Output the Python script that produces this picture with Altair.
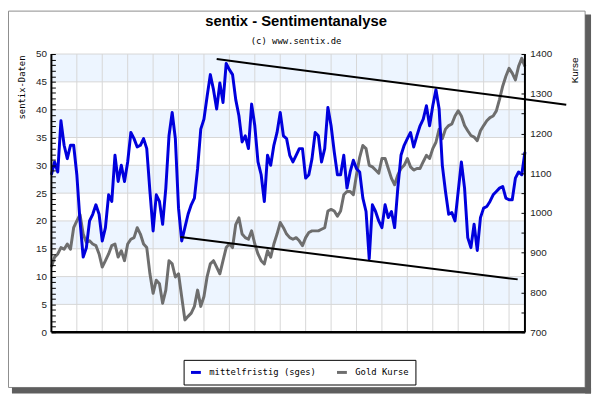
import altair as alt
import pandas as pd

# ---------------- data ----------------
week_dates = pd.date_range("2008-01-04", periods=150, freq="7D")
date_ms = [int(d.value // 10**6) for d in week_dates]

sentix_values = [
    28.3, 30.6, 28.8, 38.0, 33.6, 31.2, 33.6, 33.6, 28.3, 20.0,
    13.5, 15.2, 20.0, 21.2, 22.9, 21.2, 16.4, 18.8, 24.7, 23.5,
    31.8, 27.1, 30.0, 27.1, 30.6, 35.9, 34.8, 33.3, 33.6, 34.8,
    33.0, 25.3, 18.2, 24.7, 23.5, 19.4, 25.9, 35.3, 39.5, 34.8,
    22.3, 16.4, 18.8, 21.2, 22.9, 24.1, 29.4, 36.5, 38.3, 42.4,
    46.3, 43.6, 40.1, 44.8, 41.3, 48.3, 47.2, 46.3, 41.8, 38.9,
    34.2, 35.3, 33.0, 41.0, 37.1, 30.6, 28.3, 23.5, 31.8, 30.0,
    33.6, 35.9, 39.5, 35.3, 34.8, 31.8, 30.6, 31.8, 33.0, 33.0,
    27.7, 28.3, 31.2, 35.9, 35.3, 30.6, 33.0, 40.4, 37.1, 32.4,
    28.3, 28.3, 31.8, 25.9, 28.8, 30.9, 29.4, 28.8, 24.1, 21.7,
    13.2, 22.9, 21.7, 20.0, 18.8, 22.9, 20.6, 21.7, 18.8, 25.9,
    31.8, 33.6, 34.8, 35.9, 33.3, 35.3, 37.1, 38.3, 40.7, 37.1,
    40.7, 43.6, 40.1, 30.0, 25.3, 21.2, 21.5, 20.0, 25.3, 30.6,
    25.9, 17.0, 15.2, 19.4, 14.7, 20.6, 22.3, 22.6, 23.5, 24.7,
    25.3, 25.9, 26.2, 24.1, 23.8, 23.8, 27.7, 28.8, 28.3, 32.4,
]

gold_values = [
    864, 889, 897, 913, 909, 922, 909, 963, 980, 996,
    947, 926, 930, 922, 918, 897, 864, 880, 897, 918,
    922, 889, 905, 880, 922, 934, 938, 963, 947, 922,
    913, 847, 798, 831, 822, 773, 806, 880, 872, 839,
    847, 789, 731, 740, 748, 765, 806, 765, 790, 840,
    872, 880, 864, 847, 880, 913, 922, 913, 971, 988,
    947, 938, 934, 955, 922, 897, 880, 872, 905, 889,
    922, 947, 976, 963, 947, 938, 934, 938, 930, 918,
    938, 951, 955, 955, 955, 959, 963, 1005, 1009, 1005,
    992, 1005, 1046, 1054, 1054, 1046, 1096, 1140, 1170, 1162,
    1120, 1116, 1108, 1100, 1137, 1137, 1112, 1087, 1071, 1096,
    1112, 1120, 1137, 1116, 1108, 1112, 1112, 1129, 1145, 1137,
    1162, 1178, 1211, 1187, 1211, 1220, 1224, 1244, 1257, 1244,
    1220, 1207, 1195, 1191, 1182, 1207, 1220, 1232, 1240, 1244,
    1257, 1286, 1319, 1344, 1364, 1352, 1335, 1369, 1389, 1369,
]

series_names = ["mittelfristig (sges)", "Gold Kurse"]
series_colors = ["#0000DD", "#6E6E6E"]

x_tick_dates = pd.date_range("2008-01-04", periods=19, freq="56D")
x_tick_ms = [int(d.value // 10**6) for d in x_tick_dates]
x_start, x_end = date_ms[0], date_ms[-1]

left_ticks = list(range(0, 51))
right_ticks = list(range(700, 1401, 50))
grid_values = list(range(0, 51, 5))
band_lo = [5, 15, 25, 35, 45]
band_hi = [10, 20, 30, 40, 50]

trend_group = ["oben", "oben", "unten", "unten"]
trend_dates = ["2009-01-02", "2011-02-11", "2008-10-14", "2010-10-27"]
trend_values = [49.1, 40.9, 17.1, 9.5]
trend_ms = [int(pd.Timestamp(d).value // 10**6) for d in trend_dates]

# ---------------- frames ----------------
df_s = pd.DataFrame({"date": date_ms, "value": sentix_values, "series": series_names[0]})
df_g = pd.DataFrame({"date": date_ms, "value": gold_values, "series": series_names[1]})
df_bands = pd.DataFrame({"lo": band_lo, "hi": band_hi})
df_hgrid = pd.DataFrame({"g": grid_values})
df_vgrid = pd.DataFrame({"t": x_tick_ms})
df_trend = pd.DataFrame({"date": trend_ms, "value": trend_values, "grp": trend_group})
df_one = pd.DataFrame({"a": [0]})

W, H = 480, 282
LABEL_FONT = "Liberation Sans"
MONO = "DejaVu Sans Mono"
GRID = "#D6D6D6"

xs = alt.Scale(type="utc", domain=[x_start, x_end])
yl = alt.Scale(domain=[0, 50], nice=False, zero=False)
yr = alt.Scale(domain=[700, 1400], nice=False, zero=False)

x_label_expr = (
    f"(round((datum.value - {x_start}) / 86400000) % 112 == 0) ? "
    "utcFormat(datum.value, '%d.%m.%y') : ''"
)

x_axis = alt.Axis(
    orient="bottom", values=x_tick_ms, labelExpr=x_label_expr, offset=-4,
    tickSize=4, tickColor="black", domain=False, grid=False, title=None,
    labelFont=LABEL_FONT, labelFontSize=10, labelColor="#222", labelPadding=5,
    labelFlush=False, labelOverlap=False, zindex=1,
)
left_axis = alt.Axis(
    orient="left", values=left_ticks,
    labelExpr="datum.value % 5 == 0 ? format(datum.value, 'd') : ''",
    offset=-4, tickSize=4, tickColor="black", domain=False, grid=False,
    labelFont=LABEL_FONT, labelFontSize=10, labelColor="#222", labelPadding=5,
    labelOverlap=False, labelFlush=False, zindex=1,
    title="sentix-Daten", titleFont=MONO, titleFontSize=9, titleFontWeight="normal",
    titleColor="#000", titleAngle=270, titleAlign="right", titleBaseline="middle",
    titleX=-34, titleY=1,
)
right_axis = alt.Axis(
    orient="right", values=right_ticks,
    labelExpr="datum.value % 100 == 0 ? format(datum.value, 'd') : ''",
    offset=-4, tickSize=4, tickColor="black", domain=False, grid=False,
    labelFont=LABEL_FONT, labelFontSize=10, labelColor="#222", labelPadding=5,
    labelOverlap=False, labelFlush=False, zindex=1,
    title="Kurse", titleFont=LABEL_FONT, titleFontSize=10, titleFontWeight="normal",
    titleColor="#000", titleAngle=270, titleAlign="right", titleBaseline="middle",
    titleX=54, titleY=3,
)

legend = alt.Legend(
    orient="none", legendX=134, legendY=310, direction="horizontal", title=None,
    symbolType="stroke", symbolStrokeWidth=3, symbolSize=100,
    labelFont=MONO, labelFontSize=9, labelColor="#000", labelOffset=7,
    columnPadding=14, strokeColor="#000", fillColor="#FFFFFF", padding=6,
)
color = alt.Color(
    "series:N", scale=alt.Scale(domain=series_names, range=series_colors), legend=legend
)

# ---------------- decoration ----------------
frame = alt.Chart(df_one).mark_rect(fill="white", stroke="#8C8C8C", strokeWidth=1, clip=False).encode(
    x=alt.value(-43.5), x2=alt.value(541), y=alt.value(-43.5), y2=alt.value(338)
)
shadow_r = alt.Chart(df_one).mark_rect(color="#5E5E5E", clip=False).encode(
    x=alt.value(541), x2=alt.value(547), y=alt.value(-40), y2=alt.value(344)
)
shadow_b = alt.Chart(df_one).mark_rect(color="#5E5E5E", clip=False).encode(
    x=alt.value(-40), x2=alt.value(547), y=alt.value(338), y2=alt.value(344)
)
legend_shadow = alt.Chart(df_one).mark_rect(color="#9A9A9A", clip=False).encode(
    x=alt.value(137), x2=alt.value(369), y=alt.value(313), y2=alt.value(334)
)
plot_bg = alt.Chart(df_one).mark_rect(color="white").encode(
    x=alt.value(0), x2=alt.value(W), y=alt.value(0), y2=alt.value(H)
)

bands = alt.Chart(df_bands).mark_rect(color="#EDF5FF").encode(
    y=alt.Y("lo:Q", scale=yl, axis=None), y2="hi:Q"
)
hgrid = alt.Chart(df_hgrid).mark_rule(color=GRID, strokeWidth=1).encode(
    y=alt.Y("g:Q", scale=yl, axis=None)
)
vgrid = alt.Chart(df_vgrid).mark_rule(color=GRID, strokeWidth=1).encode(
    x=alt.X("t:T", scale=xs, axis=None)
)

gold_line = alt.Chart(df_g).mark_line(strokeWidth=3, strokeJoin="round").encode(
    x=alt.X("date:T", scale=xs, axis=x_axis),
    y=alt.Y("value:Q", scale=yr, axis=right_axis),
    color=color,
)
blue_line = alt.Chart(df_s).mark_line(strokeWidth=3, strokeJoin="round").encode(
    x=alt.X("date:T", scale=xs, axis=x_axis),
    y=alt.Y("value:Q", scale=yl, axis=left_axis),
    color=color,
)
trends = alt.Chart(df_trend).mark_line(color="black", strokeWidth=2, clip=False).encode(
    x=alt.X("date:T", scale=xs, axis=None),
    y=alt.Y("value:Q", scale=yl, axis=None),
    detail="grp:N",
)

edge_left = alt.Chart(df_one).mark_rule(color="black", strokeWidth=2).encode(
    x=alt.value(0), y=alt.value(0), y2=alt.value(H)
)
edge_right = alt.Chart(df_one).mark_rule(color="black", strokeWidth=2).encode(
    x=alt.value(W), y=alt.value(0), y2=alt.value(H)
)
edge_bottom = alt.Chart(df_one).mark_rule(color="black", strokeWidth=2.5).encode(
    x=alt.value(0), x2=alt.value(W), y=alt.value(H)
)

chart = alt.layer(
    frame, shadow_r, shadow_b, legend_shadow, plot_bg,
    bands, hgrid, vgrid, gold_line, blue_line, trends,
    edge_left, edge_right, edge_bottom,
).resolve_scale(y="independent").properties(
    width=W, height=H,
    autosize=alt.AutoSizeParams(type="none"),
    padding={"left": 44, "top": 44, "right": 70, "bottom": 63},
    background="white",
    title=alt.TitleParams(
        text="sentix - Sentimentanalyse", subtitle="(c) www.sentix.de",
        font=LABEL_FONT, fontSize=15, fontWeight="bold", color="#000",
        subtitleFont=MONO, subtitleFontSize=9, subtitleColor="#000",
        anchor="middle", frame="group", dx=8, offset=-36, subtitlePadding=8,
    ),
).configure_view(strokeWidth=0)

chart.save("out.html", embed_options={"renderer": "svg", "actions": False})
